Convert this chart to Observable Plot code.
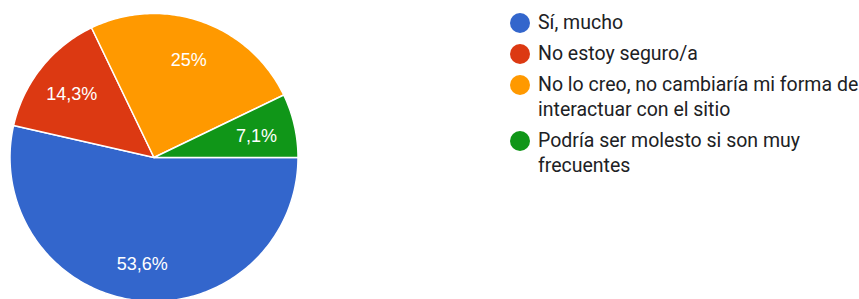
<!DOCTYPE html>
<html>
<head>
<meta charset="utf-8">
<script src="https://cdn.jsdelivr.net/npm/d3@7"></script>
<script src="https://cdn.jsdelivr.net/npm/@observablehq/plot@0.6"></script>
<style>
  html, body { margin: 0; padding: 0; background: #fff; }
  #wrap { position: relative; width: 859px; height: 299px; overflow: hidden; }
  #legend { position: absolute; left: 510px; top: 10px; font-family: Roboto, sans-serif; font-size: 19.5px; color: #202124; }
  .item { position: relative; padding-left: 28px; line-height: 25px; margin-bottom: 6px; width: 326px; }
  .sw { position: absolute; left: 0; top: 3px; width: 20px; height: 20px; border-radius: 50%; }
</style>
</head>
<body>
<div id="wrap"><div id="chart"></div><div id="legend"></div></div>
<script>
const categories = [
  "Sí, mucho",
  "No estoy seguro/a",
  "No lo creo, no cambiaría mi forma de interactuar con el sitio",
  "Podría ser molesto si son muy frecuentes"
];
const counts = [15, 4, 7, 2];
const pctLabels = ["53,6%", "14,3%", "25%", "7,1%"];
const colors = ["#3366cc", "#dc3912", "#ff9900", "#109618"];

const total = d3.sum(counts);
let acc = 0;
const slices = categories.map((c, i) => {
  const a0 = acc / total * 2 * Math.PI;
  acc += counts[i];
  const a1 = acc / total * 2 * Math.PI;
  return {cat: c, a0, a1, label: pctLabels[i]};
});

// polygon points for each slice (unit circle, clockwise on screen from east)
const pts = [];
for (const s of slices) {
  pts.push({cat: s.cat, x: 0, y: 0});
  const n = Math.max(8, Math.ceil((s.a1 - s.a0) / (Math.PI / 180)));
  for (let k = 0; k <= n; k++) {
    const a = s.a0 + (s.a1 - s.a0) * k / n;
    pts.push({cat: s.cat, x: Math.cos(a), y: -Math.sin(a)});
  }
}
const labelPts = slices.map(s => {
  const m = (s.a0 + s.a1) / 2;
  const k = 0.73;
  return {label: s.label, x: k * Math.cos(m), y: -k * Math.sin(m)};
});

const chart = Plot.plot({
  width: 859,
  height: 299,
  x: {domain: [-1, 1], range: [9.5, 297.5], axis: null},
  y: {domain: [-1, 1], range: [301, 13], axis: null},
  color: {domain: categories, range: colors},
  style: {background: "#fff", overflow: "hidden"},
  marks: [
    Plot.line(pts, {x: "x", y: "y", z: "cat", fill: "cat", stroke: "white", strokeWidth: 1.5, curve: "linear-closed"}),
    Plot.text(labelPts, {x: "x", y: "y", text: "label", fill: "white", dy: 2, fontSize: 18, fontFamily: "Liberation Sans, Arial, sans-serif"})
  ]
});
document.getElementById("chart").appendChild(chart);

const legend = document.getElementById("legend");
categories.forEach((c, i) => {
  const item = document.createElement("div");
  item.className = "item";
  const sw = document.createElement("span");
  sw.className = "sw";
  sw.style.background = colors[i];
  item.appendChild(sw);
  item.appendChild(document.createTextNode(c));
  legend.appendChild(item);
});
</script>
</body>
</html>
